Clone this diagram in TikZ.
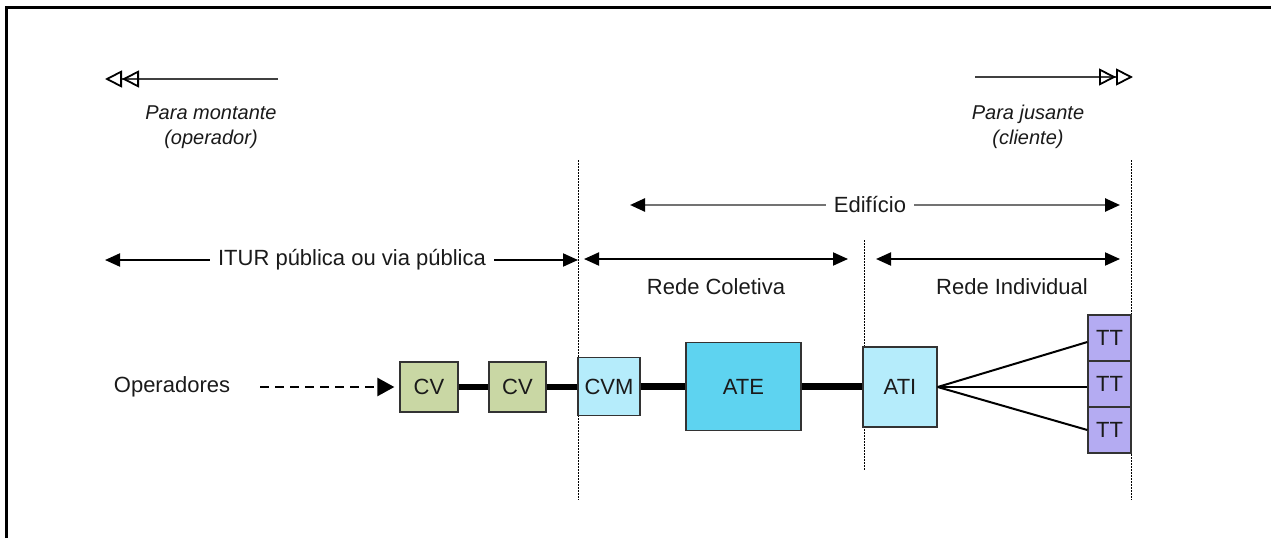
\documentclass[tikz,border=0pt]{standalone}
\usepackage{fontspec}
\setmainfont{Liberation Sans}
\usetikzlibrary{arrows.meta}
\definecolor{cvgreen}{HTML}{C9D7A4}
\definecolor{cvmcyan}{HTML}{B5ECFB}
\definecolor{atecyan}{HTML}{5ED3F0}
\definecolor{ttviolet}{HTML}{B4ABF2}
\definecolor{ink}{HTML}{1A1A1A}
\definecolor{boxline}{HTML}{333333}
\begin{document}
\begin{tikzpicture}[x=1pt,y=-1pt,
  every node/.style={text=ink, font=\fontsize{22}{26}\selectfont, inner sep=0pt},
  lbl/.style={fill=white, inner xsep=8pt},
  note/.style={font=\fontsize{20}{25}\selectfont\itshape, align=center},
  blk/.style={draw=boxline, line width=1.3pt},
  link/.style={line width=6.5pt},
  fan/.style={line width=2pt},
  head/.style={Triangle[length=15pt,width=13pt,color=black]},
  span/.style={line width=2pt, -{Triangle[length=15pt,width=13pt]}},
  span2/.style={line width=2pt, {Triangle[length=15pt,width=13pt]}-{Triangle[length=15pt,width=13pt]}},
  grayspan/.style={line width=2.5pt, draw=black!55, -{Triangle[length=15pt,width=13pt,color=black]}},
  openhead/.style={line width=1.8pt, draw=black!75,
    -{Triangle[open,length=17pt,width=17pt,color=black]Triangle[open,length=17pt,width=17pt,color=black]}},
  limit/.style={line width=1pt, dash pattern=on 1.5pt off 1.5pt}
]
\useasboundingbox (0,0) rectangle (1271,538);
% frame
\draw[line width=3pt] (6,538) -- (6,7) -- (1271,7);

% direction hints
\coordinate (upA) at (278,79);
\coordinate (upB) at (105,79);
\draw[openhead] (upA) -- (upB);
\node[note] (up) at (211,127) {Para montante\\(operador)};
\coordinate (dnA) at (975,77);
\coordinate (dnB) at (1133,77);
\draw[openhead] (dnA) -- (dnB);
\node[note] (dn) at (1028,127) {Para jusante\\(cliente)};

% boundaries
\coordinate (b1t) at (578,160); \coordinate (b1b) at (578,500);
\coordinate (b2t) at (864,240); \coordinate (b2b) at (864,470);
\coordinate (b3t) at (1131,160); \coordinate (b3b) at (1131,500);
\draw[limit] (b1t) -- (b1b);
\draw[limit] (b2t) -- (b2b);
\draw[limit] (b3t) -- (b3b);

% building span
\node[lbl] (edif) at (870,205) {Edifício};
\coordinate (edL) at (630,205);
\coordinate (edR) at (1120,205);
\draw[grayspan] (edif.west) -- (edL);
\draw[grayspan] (edif.east) -- (edR);

% public span
\node[lbl] (itur) at (352,260) {ITUR pública ou via pública};
\coordinate (itL) at (105,260);
\coordinate (itR) at (578,260);
\draw[span] (itur.west) -- (itL);
\draw[span] (itur.east) -- (itR);

% collective / individual networks
\coordinate (rcL) at (584,259); \coordinate (rcR) at (848,259);
\coordinate (riL) at (876,259); \coordinate (riR) at (1120,259);
\draw[span2] (rcL) -- (rcR);
\draw[span2] (riL) -- (riR);
\node (rc) at (716,287) {Rede Coletiva};
\node (ri) at (1012,287) {Rede Individual};

% chain
\node (op) at (172,387) {Operadores};
\node[blk, fill=cvgreen, minimum width=58pt, minimum height=50pt] (cv1) at (429,387) {CV};
\node[blk, fill=cvgreen, minimum width=57pt, minimum height=50pt] (cv2) at (517.5,387) {CV};
\node[blk, fill=cvmcyan, minimum width=62pt, minimum height=58pt] (cvm) at (609,386.5) {CVM};
\node[blk, fill=atecyan, minimum width=115pt, minimum height=88pt] (ate) at (743.5,386.5) {ATE};
\node[blk, fill=cvmcyan, minimum width=74pt, minimum height=80pt] (ati) at (900,387) {ATI};
\node[blk, fill=ttviolet, minimum width=43pt, minimum height=46pt] (tt1) at (1109.5,338) {TT};
\node[blk, fill=ttviolet, minimum width=43pt, minimum height=46pt] (tt2) at (1109.5,384) {TT};
\node[blk, fill=ttviolet, minimum width=43pt, minimum height=46pt] (tt3) at (1109.5,430) {TT};

\coordinate (opA) at (260,387);
\draw[line width=2.5pt, dash pattern=on 9pt off 6pt, -{Triangle[length=17pt,width=18pt]}, shorten >=5pt] (opA) -- (cv1.west);
\draw[link] (cv1.east) -- (cv2.west);
\draw[link] (cv2.east) -- (cvm.west |- cv2.east);
\draw[link] (cvm.east) -- (ate.west);
\draw[link] (ate.east) -- (ati.west |- ate.east);
\draw[fan] (ati.east) -- ([yshift=-4pt]tt1.west);
\draw[fan] (ati.east) -- ([yshift=-3pt]tt2.west);
\draw[fan] (ati.east) -- (tt3.west);
\end{tikzpicture}
\end{document}
